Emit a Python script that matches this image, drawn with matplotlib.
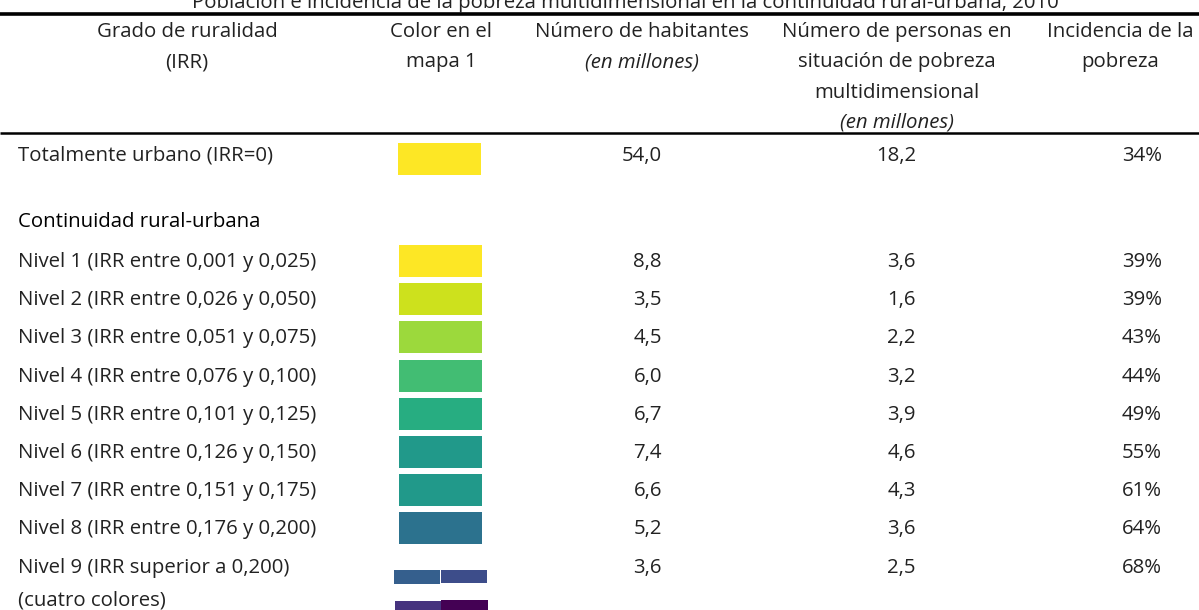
import matplotlib.pyplot as plt
from matplotlib.patches import Rectangle

# Datos de la tabla
titulo = "Población e incidencia de la pobreza multidimensional en la continuidad rural-urbana, 2010"
niveles = [
    "Nivel 1 (IRR entre 0,001 y 0,025)",
    "Nivel 2 (IRR entre 0,026 y 0,050)",
    "Nivel 3 (IRR entre 0,051 y 0,075)",
    "Nivel 4 (IRR entre 0,076 y 0,100)",
    "Nivel 5 (IRR entre 0,101 y 0,125)",
    "Nivel 6 (IRR entre 0,126 y 0,150)",
    "Nivel 7 (IRR entre 0,151 y 0,175)",
    "Nivel 8 (IRR entre 0,176 y 0,200)",
    "Nivel 9 (IRR superior a 0,200)",
]
habitantes = [8.8, 3.5, 4.5, 6.0, 6.7, 7.4, 6.6, 5.2, 3.6]
pobres = [3.6, 1.6, 2.2, 3.2, 3.9, 4.6, 4.3, 3.6, 2.5]
incidencia = [39, 39, 43, 44, 49, 55, 61, 64, 68]
colores = ["#FDE725", "#CDE11D", "#9CD93C", "#42BD73", "#27AD81",
           "#21998A", "#21998A", "#2C728E"]
colores_nivel9 = ["#355F8D", "#3D4D8A", "#46337E", "#440154"]

urbano_label = "Totalmente urbano (IRR=0)"
urbano_hab = 54.0
urbano_pob = 18.2
urbano_inc = 34
urbano_color = "#FDE725"


def coma(v):
    return f"{v:.1f}".replace(".", ",")


plt.rcParams['font.family'] = ['Open Sans', 'DejaVu Sans']
fig = plt.figure(figsize=(11.99, 6.10), dpi=100)
ax = fig.add_axes([0, 0, 1, 1])
ax.set_xlim(0, 1199)
ax.set_ylim(610, 0)
ax.axis('off')

fs = 14.7
txt = '#222222'

# Titulo (cortado arriba, como en el original)
ax.text(625, 8, titulo, ha='center', va='baseline', fontsize=fs, color=txt)

# Lineas
ax.plot([0, 1199], [14, 14], color='black', lw=2.6, solid_capstyle='butt')
ax.plot([0, 1199], [133, 133], color='black', lw=1.8, solid_capstyle='butt')

# Encabezados
lh = 30.5
y0 = 32
ax.text(187, y0, "Grado de ruralidad", ha='center', va='center', fontsize=fs, color=txt)
ax.text(187, y0 + lh, "(IRR)", ha='center', va='center', fontsize=fs, color=txt)
ax.text(441, y0, "Color en el", ha='center', va='center', fontsize=fs, color=txt)
ax.text(441, y0 + lh, "mapa 1", ha='center', va='center', fontsize=fs, color=txt)
ax.text(642, y0, "Número de habitantes", ha='center', va='center', fontsize=fs, color=txt)
ax.text(642, y0 + lh, "(en millones)", ha='center', va='center', fontsize=fs,
        color=txt, style='italic')
for i, s in enumerate(["Número de personas en", "situación de pobreza", "multidimensional"]):
    ax.text(897, y0 + i * lh, s, ha='center', va='center', fontsize=fs, color=txt)
ax.text(897, y0 + 3 * lh - 1, "(en millones)", ha='center', va='center', fontsize=fs,
        color=txt, style='italic')
ax.text(1120, y0, "Incidencia de la", ha='center', va='center', fontsize=fs, color=txt)
ax.text(1120, y0 + lh, "pobreza", ha='center', va='center', fontsize=fs, color=txt)

x_lab = 18
x_hab = 662
x_pob = 916
x_inc = 1162

# Fila urbana
yu = 156
ax.text(x_lab, yu, urbano_label, ha='left', va='center', fontsize=fs, color=txt)
ax.add_patch(Rectangle((398, yu - 13), 83, 32, color=urbano_color, lw=0))
ax.text(x_hab, yu, coma(urbano_hab), ha='right', va='center', fontsize=fs, color=txt)
ax.text(x_pob, yu, coma(urbano_pob), ha='right', va='center', fontsize=fs, color=txt)
ax.text(x_inc, yu, f"{urbano_inc}%", ha='right', va='center', fontsize=fs, color=txt)

ax.text(x_lab, 222, "Continuidad rural-urbana", ha='left', va='center', fontsize=fs,
        color='black', weight='medium')

paso = 38.2
for i, nombre in enumerate(niveles):
    y = 262 + i * paso
    ax.text(x_lab, y, nombre, ha='left', va='center', fontsize=fs, color=txt)
    ax.text(x_hab, y, coma(habitantes[i]), ha='right', va='center', fontsize=fs, color=txt)
    ax.text(x_pob, y, coma(pobres[i]), ha='right', va='center', fontsize=fs, color=txt)
    ax.text(x_inc, y, f"{incidencia[i]}%", ha='right', va='center', fontsize=fs, color=txt)
    if i < len(colores):
        ax.add_patch(Rectangle((399, y - 17), 83, 32, color=colores[i], lw=0))

# Nivel 9: cuatro colores
y9 = 262 + 8 * paso
ax.text(x_lab, y9 + 33, "(cuatro colores)", ha='left', va='center', fontsize=fs, color=txt)
ax.add_patch(Rectangle((394, y9 + 2), 46, 14, color=colores_nivel9[0], lw=0))
ax.add_patch(Rectangle((441, y9 + 2), 46, 13, color=colores_nivel9[1], lw=0))
ax.add_patch(Rectangle((395, y9 + 33), 46, 14, color=colores_nivel9[2], lw=0))
ax.add_patch(Rectangle((441, y9 + 32), 47, 15, color=colores_nivel9[3], lw=0))

fig.savefig('out.png', dpi=100)
